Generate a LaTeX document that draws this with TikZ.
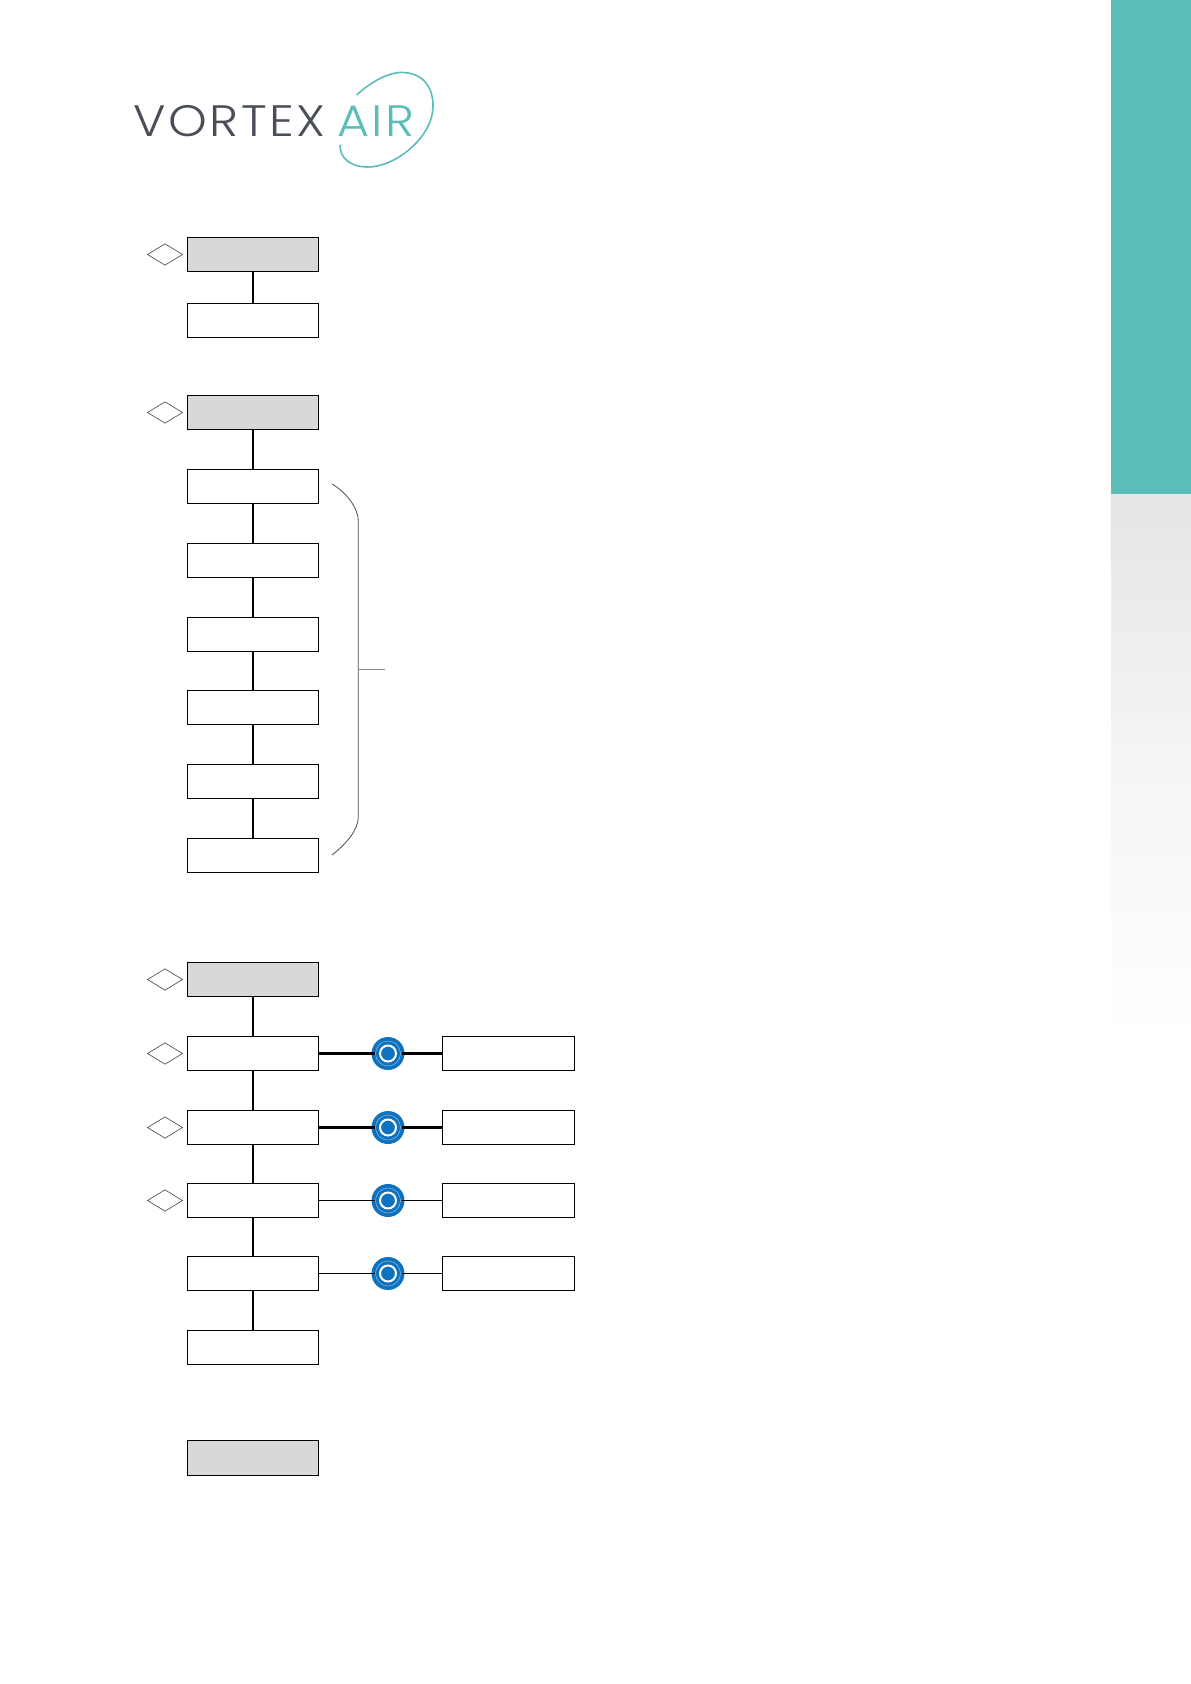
\documentclass[tikz,border=0pt]{standalone}
\usepackage{xcolor}
\usepackage{fontspec}
\usepackage{tikz}
\usetikzlibrary{shapes.geometric, positioning}
\newfontfamily\logofont[UprightFont=* Light, LetterSpace=6, FakeStretch=1.12]{Poppins}
\definecolor{bandTeal}{HTML}{5BBDB7}
\definecolor{logoDark}{HTML}{4A4E57}
\definecolor{valveBlue}{HTML}{0F72BF}
\definecolor{headGrey}{HTML}{D8D8D8}

\begin{document}
\begin{tikzpicture}[
    x=1pt, y=-1pt,
    every node/.style={outer sep=0pt, inner sep=0pt},
    stepbox/.style={draw, line width=1.1pt, minimum width=131pt, minimum height=34pt},
    headbox/.style={stepbox, fill=headGrey},
    decision/.style={draw=black!75, line width=0.6pt, diamond, aspect=1.64,
                     minimum width=35pt, minimum height=21.3pt},
    valve/.style={circle, fill=valveBlue, minimum size=33pt},
    link/.style={line width=1.1pt},
    boldlink/.style={line width=2.2pt},
    valvelink/.style={shorten >=-3pt},
]
% Side band
\fill[bandTeal] (1111,0) rectangle (1191,494);
\shade[top color=black!10, bottom color=white, middle color=black!4] (1111,494) rectangle (1191,1035);

% Logo
\node[anchor=base west, font=\logofont\fontsize{44}{44}\selectfont, text=logoDark] (vortex) at (133,136) {VORTEX};
\node[anchor=base west, font=\logofont\fontsize{44}{44}\selectfont, text=bandTeal] (air) at (337,136) {AIR};
\draw[bandTeal, line width=1.6pt] (356.7,95) .. controls (375,78) and (395,70) .. (408,73)
    .. controls (428,76) and (436,95) .. (432,115)
    .. controls (427,140) and (395,167) .. (368,167)
    .. controls (350,167) and (340,158) .. (340,145);

% First group
\node[headbox, anchor=north west] (a0) at (187.5,237.5) {};
\node[stepbox, below=32pt of a0] (a1) {};
\node[decision, left=5pt of a0] (da0) {};
\draw[link] (a0) -- (a1);

% Second group
\node[headbox, anchor=north west] (b0) at (187.5,395.5) {};
\node[stepbox, below=40pt of b0] (b1) {};
\node[stepbox, below=40pt of b1] (b2) {};
\node[stepbox, below=40pt of b2] (b3) {};
\node[stepbox, below=39pt of b3] (b4) {};
\node[stepbox, below=40pt of b4] (b5) {};
\node[stepbox, below=40pt of b5] (b6) {};
\node[decision, left=5pt of b0] (db0) {};
\foreach \i/\j in {b0/b1, b1/b2, b2/b3, b3/b4, b4/b5, b5/b6}
    \draw[link] (\i) -- (\j);

% Brace beside the second group
\coordinate (bracetop) at (332,484);
\coordinate (bracebot) at (332,855);
\coordinate (bracemid) at (358.3,669.3);
\coordinate (bracetip) at (385,669.3);
\draw[black!70, line width=0.8pt] (bracetop) .. controls (346,492) and (358.3,508) .. (358.3,521)
    -- (358.3,817) .. controls (358.3,830) and (346,844) .. (bracebot);
\draw[black!45, line width=0.7pt] (bracemid) -- (bracetip);

% Third group
\node[headbox, anchor=north west] (c0) at (187.5,962.5) {};
\node[stepbox, below=40pt of c0] (c1) {};
\node[stepbox, below=40pt of c1] (c2) {};
\node[stepbox, below=39pt of c2] (c3) {};
\node[stepbox, below=39pt of c3] (c4) {};
\node[stepbox, below=40pt of c4] (c5) {};
\foreach \i/\j in {c0/c1, c1/c2, c2/c3, c3/c4, c4/c5}
    \draw[link] (\i) -- (\j);
\foreach \i in {c0, c1, c2, c3}
    \node[decision, left=5pt of \i] (d\i) {};

% Valves and outlets
\foreach \i/\style in {1/boldlink, 2/boldlink, 3/link, 4/link} {
    \node[stepbox, minimum width=132pt, right=124pt of c\i] (r\i) {};
    \node[valve, right=53pt of c\i] (v\i) {};
    \draw[\style, valvelink] (c\i) -- (v\i);
    \draw[\style, valvelink] (r\i) -- (v\i);
    \node[circle, draw=white!60!valveBlue, line width=0.4pt, minimum size=25pt] (vo\i) at (v\i) {};
    \node[circle, draw=white, fill=valveBlue, line width=2pt, minimum size=16pt] (vi\i) at (v\i) {};
}

% Last box
\node[headbox, anchor=north west, minimum height=35pt] (e0) at (187.5,1440.5) {};

\useasboundingbox (0,0) rectangle (1191,1684);
\end{tikzpicture}
\end{document}
